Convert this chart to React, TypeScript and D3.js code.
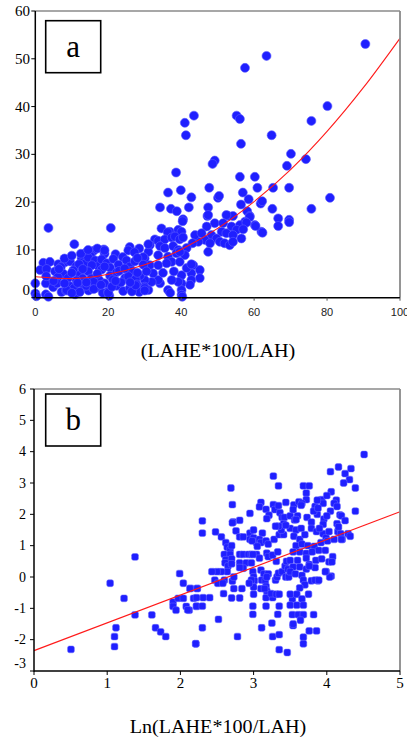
import React from 'react';
import * as d3 from 'd3';

// panel a : scatter of share vs value, with quadratic fit
const aX = [
  90.5, 63.4, 57.5, 80.1, 43.5, 41, 55.2, 56.1, 75.7, 41.3, 64.8, 56.4, 70.1, 74.2, 69.0, 49.2, 48.6, 38.6, 56.1, 60.2,
  47.7, 36.4, 39.9, 42.8, 50.1, 50.4, 56.9, 60.9, 65.2, 69.6, 80.8, 75.7, 34.2, 37.2, 38.8, 42.1, 47.4, 58.5, 56.4, 61.8,
  62.2, 65, 58.1, 40.5, 47.2, 52.9, 54.2, 58.8, 66.6, 69.6,
  47.4, 52.4, 58.8, 57.5, 60.2, 62, 49.2, 47, 51.5, 53.8, 56.1, 55.2, 51.1, 52.4, 54.2, 56.5, 48.3, 49.7, 46.5, 47.9,
  50.6, 51.9, 53.3, 54.2, 47.4, 44.7, 43.8, 45.6, 43.1, 66.6, 69.6, 62.3, 57.9, 57, 60.4,
  40.4, 36.9, 39.2, 40.1, 34.6, 36.3, 32.8, 33.7, 35.5, 37.4, 38.3, 39.6, 40.5, 31.4, 34.2, 35.5, 37.8, 39.2, 41.5, 31,
  33.7, 36.4, 38.7, 41, 37.4, 39.6, 30, 31.4, 33.7, 36, 43.3, 45.1, 45.1, 42.8, 42.8, 42.4, 40.1, 40.1, 40.1, 40.1,
  39.2, 37.4, 36.4, 34.2, 33.7, 31.9, 30, 30, 31, 40.3, 37, 35, 32.3, 38, 41.5, 42.8, 39.6, 31, 25.9, 25.5,
  29.6, 28.5, 27.2,
  3.6, 20.7, 10.7, 18.8, 22, 14, 16, 15.2, 24, 19,
  2.2, 4.0, 6.3, 8.1, 9.5, 12.7, 13.6, 14.5, 16.4, 17.3, 18.2, 19.6, 21.4, 22.8, 25.0, 25.9, 27.3, 29.6, 11.2, 20.5,
  15.5, 28, 12, 7,
  1.3, 3.1, 5.4, 7.7, 10.4, 12.2, 14.5, 16.8, 18.2, 20.5, 22.3, 24.6, 26.4, 28.7, 30.5, 9, 13, 17.5, 21.3, 25.5,
  6.2, 27.5, 11.3, 15.3,
  0, 0, 2.9, 2.9, 4.9, 7.2, 8.4, 9.5, 10.6, 10.9, 13.2, 12.2, 14.6, 16.8, 18.5, 20, 20.3, 22.3, 24.1, 25.9,
  27.8, 28.5, 30, 6, 19, 23.5, 3.6, 0.3, 11.6, 16,
  8, 10, 12.5, 14.5, 17, 19, 8.6, 10, 14, 16, 20, 21, 26.5, 27.5, 30,
  5, 8, 14, 18, 22, 26, 3, 10, 17, 23, 28, 6.5, 13, 19, 24.5,
];
const aY = [
  53.1, 50.6, 48.1, 40.1, 38.1, 36.6, 38.1, 37.4, 37.0, 34.0, 34.0, 32.2, 30.1, 29.0, 27.6, 28.7, 28.0, 26.2, 25.3, 25.3,
  23.0, 22.0, 22.5, 21.0, 20.9, 21.3, 22.0, 23.0, 23.0, 23.0, 20.9, 18.6, 18.9, 18.6, 18.1, 18.9, 18.9, 20.6, 19.5, 19.7,
  20.2, 18.6, 18.1, 16.4, 17.1, 17.1, 17.1, 17.1, 16.6, 16.3,
  17.3, 17.3, 16.9, 15.9, 15.2, 13.8, 15.6, 14.9, 15.6, 14.9, 15.2, 14.2, 13.8, 13.5, 13.1, 12.4, 13.1, 12.4, 12.1, 11.4,
  11.7, 11.4, 11.0, 11.7, 9.6, 11.7, 13.1, 13.5, 11.4, 15.0, 15.8, 13.6, 15.7, 14.3, 15.0,
  16.0, 13.8, 14.2, 13.8, 14.5, 13.7, 12.2, 11.9, 12.2, 12.6, 12.8, 12.2, 12.6, 11.0, 10.8, 10.4, 10.8, 10.0, 10.4, 9.6,
  8.9, 8.6, 9.3, 8.9, 7.5, 7.5, 8.2, 6.8, 6.8, 7.2, 6.8, 5.8, 4.1, 5.1, 3.7, 2.7, 4.7, 3.0, 1.6, 0.6,
  3.3, 3.7, 1.6, 3.0, 3.7, 3.3, 3.7, 2.3, 1.6, 0.2, 1.0, 5.2, 5.1, 5.5, 6.2, 7.0, 9.6, 11.2, 10.6, 9.9,
  8.5, 10.3, 9.5,
  14.6, 14.6, 11.2, 10.1, 9.1, 9.5, 9.8, 8.7, 8.5, 9.2,
  7.3, 7.5, 7.0, 7.4, 7.6, 8.2, 7.1, 8.4, 7.8, 6.6, 8.0, 7.2, 8.1, 6.9, 7.8, 6.5, 7.6, 6.9, 6.6, 6.3,
  6.8, 8.3, 7.0, 6.4,
  5.8, 6.0, 5.5, 5.0, 5.7, 4.8, 5.5, 4.4, 5.9, 4.6, 5.3, 4.1, 5.6, 4.6, 5.5, 4.1, 4.0, 3.7, 3.8, 4.5,
  4.3, 3.9, 3.6, 4.0,
  3.0, 0.9, 3.0, 0.7, 2.2, 1.2, 1.5, 2.4, 2.0, 0.7, 2.6, 1.2, 1.5, 2.1, 1.0, 1.3, 0.4, 2.5, 1.4, 2.0,
  2.8, 1.2, 2.0, 3.0, 3.0, 3.2, 0.2, 0.3, 3.1, 3.3,
  8.2, 8.8, 9.2, 10.0, 10.3, 9.9, 1.6, 1.0, 2.5, 1.8, 1.0, 2.3, 1.3, 2.6, 1.5,
  3.5, 3.0, 3.2, 2.7, 3.5, 3.2, 4.5, 5.2, 5.0, 5.6, 5.2, 6.0, 6.0, 6.5, 6.1,
];
const fitAX = [0, 10, 20, 30, 40, 50, 60, 70, 80, 90, 100];
const fitAY = [4.4, 4.0, 4.9, 6.9, 10.1, 14.5, 20.1, 26.8, 34.8, 44.0, 54.3];
const ticksAX = [0, 20, 40, 60, 80, 100];
const ticksAY = [0, 10, 20, 30, 40, 50, 60];

// panel b : log share
const bX = [
  0.505, 1.04, 1.38, 1.23, 1.38, 1.12, 1.10, 1.10, 1.61, 1.66, 1.73, 1.80, 1.99, 2.04, 2.14, 2.23, 1.90, 1.90, 1.97, 2.04,
  1.94, 2.08, 2.12, 2.18, 2.22, 2.21,
  3.27, 3.34, 2.69, 2.71, 3.10, 3.08, 3.17, 3.27, 3.29, 3.21, 3.18, 2.95, 2.30, 2.81, 2.72, 2.30, 2.48, 2.56, 2.76, 2.81,
  2.86, 2.62, 2.64, 2.68, 2.70,
  2.95, 2.95, 3.0, 3.0, 3.04, 2.98, 3.12, 3.08, 3.1, 3.05, 3.17, 3.2, 3.28, 3.35,
  3.34, 3.36, 3.39, 3.44, 3.42, 3.41, 3.41, 3.38, 3.34, 3.3,
  3.04, 3.08, 3.18, 3.2, 3.26, 3.33, 3.31,
  2.81, 2.86, 2.93, 2.97, 2.99, 2.6, 2.68, 2.62, 2.7,
  2.81, 2.9, 2.97, 2.86, 2.81, 2.61, 2.65, 2.7,
  2.64, 2.56, 2.5, 2.43, 2.47, 2.51, 2.6, 2.58, 2.71, 2.73,
  2.99, 3.0, 3.01, 3.0, 3.1, 3.14, 3.11, 3.16, 3.2, 3.18, 3.17, 3.18,
  3.3, 3.32, 3.34, 3.39, 3.44, 3.48, 3.43, 3.45, 3.47,
  2.13, 2.23, 2.31, 2.4, 2.22, 2.59, 2.7, 2.81, 2.73, 2.84, 2.22, 2.3, 2.1, 2.52,
  2.99, 2.99, 3.17, 3.17, 3.26, 3.24, 3.31, 3.35, 3.35, 3.33, 3.11, 3.25, 3.26, 3.35, 3.54, 2.30, 2.78, 2.21, 3.35, 3.46,
  3.53, 3.53,
  2.97, 2.94, 3.0, 3.1, 3.15,
  4.51, 4.16, 4.05, 4.33, 4.25, 4.31, 4.23, 4.39, 3.68, 3.76, 3.72, 3.72, 3.93, 4.06, 4.13, 4.0, 3.95, 4.1,
  3.55, 3.62, 3.66, 3.84, 3.87, 4.05, 4.14, 4.18, 4.39,
  3.5, 3.6, 3.56, 3.73, 3.79, 3.87, 3.96, 4.0, 3.95,
  4.14, 4.15, 4.19, 4.29, 4.21,
  3.5, 3.58, 3.65, 3.55, 3.63, 3.7, 3.79, 3.86, 3.95, 3.99, 4.03,
  3.58, 3.66, 3.74, 3.83, 3.92, 4.01, 3.54, 3.63, 3.72, 3.8, 3.89, 3.98, 4.08,
  3.5, 3.6, 3.72, 3.76, 3.85, 3.93, 4.03, 3.84,
  3.54, 3.63, 3.72, 3.76, 3.99, 4.06,
  3.5, 3.57, 3.66, 3.68, 3.79, 3.88, 3.7, 3.63,
  3.5, 3.59, 3.66, 3.75, 3.5, 3.59, 3.68,
  3.82, 3.61, 3.68, 3.64, 3.54,
  3.76, 3.86, 3.68, 3.68,
  2.71, 3.44, 3.54, 3.58, 3.65, 3.82, 3.88, 3.9, 4.16, 4.2, 4.25, 4.32,
  4.04, 3.98, 3.84, 3.89, 4.07, 4.1, 4.2,
];
const bY = [
  -2.31, -0.2, 0.64, -0.68, -1.21, -1.62, -1.9, -2.22, -1.21, -1.62, -1.75, -1.9, 0.11, -0.2, -0.36, -0.36, -0.8, -0.94, -0.68, -0.68,
  -1.06, -0.94, -1.06, -0.68, -0.94, -2.13,
  3.22, 2.91, 2.84, 2.31, 2.38, 2.24, 2.16, 2.31, 2.15, 1.97, 1.86, 2.03, 1.79, 1.81, 1.76, 1.40, 1.44, 1.28, 1.47, 1.28,
  1.28, 1.1, 0.95, 0.88, 1.0,
  1.4, 1.2, 1.5, 1.25, 1.1, 1.15, 1.4, 1.2, 1.1, 0.98, 1.15, 1.05, 1.2, 1.35,
  2.28, 2.05, 1.9, 2.38, 1.9, 1.7, 1.35, 1.5, 1.62, 1.62,
  0.72, 0.6, 0.76, 0.65, 0.7, 0.8, 0.5,
  0.72, 0.72, 0.72, 0.72, 0.72, 0.72, 0.72, 0.55, 0.58,
  0.45, 0.45, 0.45, 0.28, 0.3, 0.45, 0.35, 0.42,
  0.17, 0.17, 0.17, 0.17, -0.1, -0.2, -0.1, -0.2, -0.13, 0.0,
  0.17, 0.0, -0.12, -0.32, 0.22, 0.1, -0.1, -0.12, 0.1, 0.0, -0.3, -0.45,
  -0.1, 0.0, 0.12, 0.17, 0.0, 0.0, 0.35, 0.5, 0.25,
  -0.37, -0.37, -0.66, -0.66, -0.66, -0.53, -0.67, -0.67, -0.37, -0.37, -0.93, -0.93, -1.05, -1.35,
  -0.93, -1.19, -0.66, -0.93, -0.66, -0.53, -0.55, -0.55, -0.93, -1.19, -1.62, -1.47, -1.9, -1.84, -1.55, -1.62, -1.9, -2.13, -2.32, -2.41,
  -0.7, -1.2,
  -0.1, -0.2, -0.55, -0.37, -0.37,
  3.91, 3.51, 3.36, 3.46, 3.3, 3.11, 3.0, 2.84, 2.91, 2.91, 2.68, 2.47, 2.47, 2.72, 2.45, 2.6, 2.35, 2.35,
  2.3, 2.4, 2.35, 2.25, 2.45, 2.1, 2.25, 1.98, 2.1,
  1.95, 1.95, 1.82, 1.9, 1.75, 2.0, 1.85, 1.95, 1.68,
  1.7, 1.45, 1.38, 1.38, 1.2,
  1.55, 1.5, 1.55, 1.3, 1.2, 1.35, 1.55, 1.45, 1.38, 1.25, 1.45,
  1.0, 1.05, 1.0, 0.98, 1.1, 1.15, 0.8, 0.8, 0.75, 0.8, 0.85, 0.85, 0.65,
  0.53, 0.53, 0.6, 0.4, 0.53, 0.58, 0.48, 0.3,
  0.32, 0.32, 0.25, 0.35, 0.17, 0.03,
  0.17, 0.1, 0.05, -0.1, -0.12, -0.12, -0.25, -0.35,
  -0.55, -0.55, -0.7, -0.55, -0.9, -0.9, -0.9,
  -1.2, -1.2, -1.2, -1.38, -1.5,
  -1.72, -1.72, -1.92, -2.13,
  1.73, 1.65, 2.15, 1.83, 2.29, 2.1, 2.2, 1.55, 1.6, 1.95, 1.8, 1.3,
  0.0, 0.17, -0.1, -0.1, 0.48, 1.2, 1.2,
];
const fitBX = [0, 5];
const fitBY = [-2.35, 2.08];
const ticksBX = [0, 1, 2, 3, 4, 5];
const ticksBY = [-3, -2, -1, 0, 1, 2, 3, 4, 5, 6];

const SERIF = '"Liberation Serif", "Times New Roman", Times, serif';
const SANS = '"Liberation Sans", Arial, sans-serif';
const DOT = '#1f1fff';

function Frame({ x, y }: { x: any; y: any }) {
  const [x0, x1] = x.range();
  const [y0, y1] = y.range();
  return (
    <g>
      <line x1={x0} x2={x1} y1={y1} y2={y1} stroke="#8a8a8a" strokeWidth={1.6} />
      <line x1={x1} x2={x1} y1={y1} y2={y0} stroke="#8a8a8a" strokeWidth={1.8} />
      <line x1={x0} x2={x0} y1={y1} y2={y0 + 0.8} stroke="#000" strokeWidth={1.5} />
      <line x1={x0} x2={x1} y1={y0} y2={y0} stroke="#000" strokeWidth={1.5} />
    </g>
  );
}

function LabelBox({ x, y, text }: { x: number; y: number; text: string }) {
  return (
    <g>
      <rect x={x} y={y} width={55} height={52} fill="#fff" stroke="#000" strokeWidth={1.6} />
      <text x={x + 27.5} y={y + 36} textAnchor="middle" fontFamily={SERIF} fontSize={31}>{text}</text>
    </g>
  );
}

function PanelA() {
  const x = d3.scaleLinear().domain([0, 100]).range([35.3, 400]);
  const y = d3.scaleLinear().domain([0, 60]).range([297.7, 11]);
  const line = d3.line<number>().x((_, i) => x(fitAX[i])).y((d) => y(d)).curve(d3.curveMonotoneX);
  const y0 = y.range()[0];
  return (
    <g>
      {aX.map((v, i) => (
        <circle key={i} cx={x(v)} cy={y(aY[i])} r={4.5} fill={DOT} stroke="#5c5cff" strokeWidth={0.6} />
      ))}
      <path d={line(fitAY) || ''} fill="none" stroke="#ff1a1a" strokeWidth={1.1} />
      <Frame x={x} y={y} />
      {ticksAY.map((t) => (
        <g key={t}>
          <line x1={x(0) - 4} x2={x(0)} y1={y(t)} y2={y(t)} stroke="#000" strokeWidth={1} />
          <text x={30} y={y(t) - (t === 0 ? 7.5 : 0)} dy="0.34em" textAnchor="end" fontFamily={SERIF} fontSize={15}>{t}</text>
        </g>
      ))}
      {ticksAX.map((t) => (
        <g key={t}>
          <line x1={x(t)} x2={x(t)} y1={y0} y2={y0 + 3} stroke="#555" strokeWidth={1} />
          <text x={x(t)} y={y0 + 18} textAnchor="middle" fontFamily={SANS} fontSize={11} fill="#222">{t}</text>
        </g>
      ))}
      <LabelBox x={45.7} y={20.7} text="a" />
      <text x={218} y={357} textAnchor="middle" fontFamily={SERIF} fontSize={18} transform="translate(218,0) scale(1.12,1) translate(-218,0)">(LAHE*100/LAH)</text>
    </g>
  );
}

function PanelB() {
  const x = d3.scaleLinear().domain([0, 5]).range([34, 400]);
  const y = d3.scaleLinear().domain([-3, 6]).range([671, 389]);
  const line = d3.line<number>().x((_, i) => x(fitBX[i])).y((d) => y(d));
  const y0 = y.range()[0];
  return (
    <g>
      {bX.map((v, i) => (
        <rect key={i} x={x(v) - 3.4} y={y(bY[i]) - 3.4} width={6.8} height={6.8} rx={1.8} fill={DOT} stroke="#6a6aff" strokeWidth={0.5} />
      ))}
      <path d={line(fitBY) || ''} fill="none" stroke="#ff1a1a" strokeWidth={1.1} />
      <Frame x={x} y={y} />
      {ticksBY.map((t) => (
        <g key={t}>
          <line x1={x(0) - 4} x2={x(0)} y1={y(t)} y2={y(t)} stroke="#000" strokeWidth={1} />
          <text x={26} y={y(t) - (t === -3 ? 8 : 0)} dy="0.34em" textAnchor="end" fontFamily={SERIF} fontSize={14}>{t}</text>
        </g>
      ))}
      {ticksBX.map((t) => (
        <g key={t}>
          <line x1={x(t)} x2={x(t)} y1={y0} y2={y0 + 4} stroke="#000" strokeWidth={1} />
          <text x={x(t)} y={y0 + 17} textAnchor="middle" fontFamily={SERIF} fontSize={15}>{t}</text>
        </g>
      ))}
      <LabelBox x={45.7} y={394} text="b" />
      <text x={218} y={733} textAnchor="middle" fontFamily={SERIF} fontSize={19} transform="translate(218,0) scale(1.06,1) translate(-218,0)">Ln(LAHE*100/LAH)</text>
    </g>
  );
}

export default function App() {
  return (
    <div style={{ position: 'absolute', left: 0, top: 0 }}>
      <svg width={407} height={738} style={{ display: 'block', background: '#fff' }}>
        <PanelA />
        <PanelB />
      </svg>
    </div>
  );
}
